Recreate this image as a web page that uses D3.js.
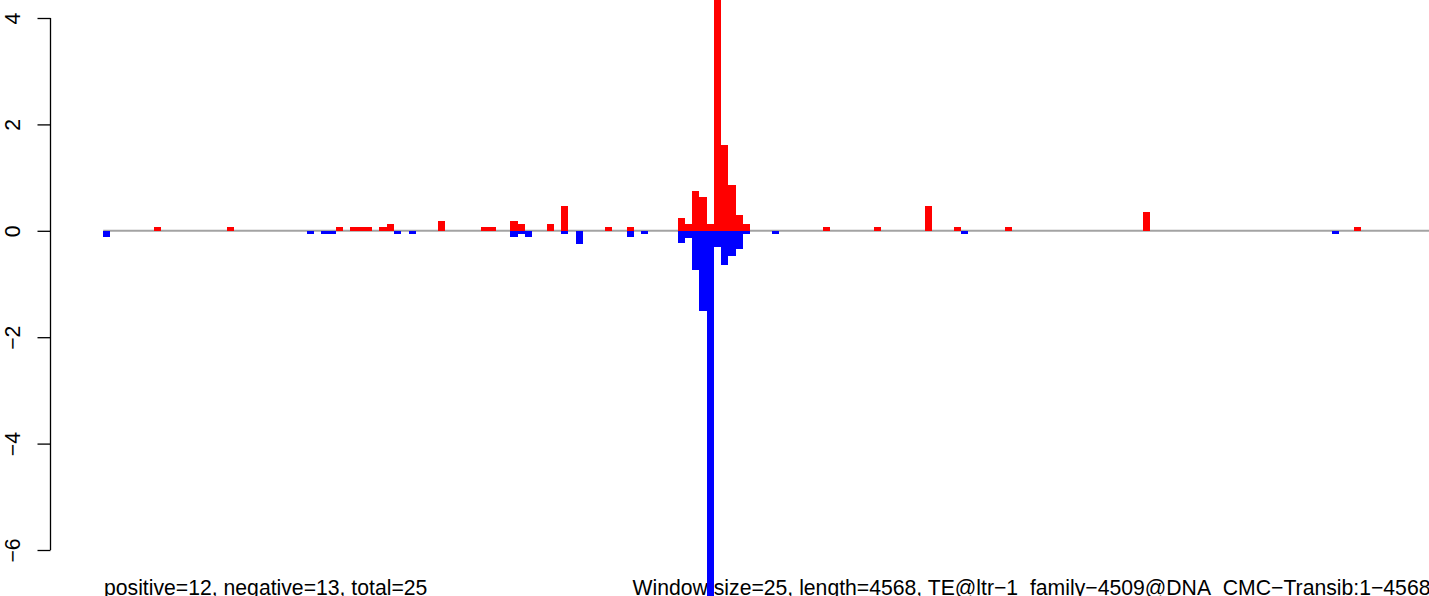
<!DOCTYPE html>
<html>
<head>
<meta charset="utf-8">
<script src="https://cdn.jsdelivr.net/npm/d3@7"></script>
<style>
  html, body { margin: 0; padding: 0; background: #fff; overflow: hidden; }
  svg { display: block; }
  text { font-family: "Liberation Sans", Arial, Helvetica, sans-serif; }
</style>
</head>
<body>
<svg id="chart" width="1429" height="596"></svg>
<script>
// ---- data (window index -> value) ----
const windowCount = 183;
const posBins = [7, 17, 32, 34, 35, 36, 38, 39, 46, 52, 53, 56, 57, 61, 63, 69, 72,
                 79, 80, 81, 82, 83, 84, 85, 86, 87, 88, 99, 106, 113, 117, 124, 143, 172];
const posValues = [0.0625, 0.0625, 0.0625, 0.0625, 0.0625, 0.0625, 0.0625, 0.125, 0.1875, 0.0625, 0.0625, 0.1875, 0.125, 0.125, 0.47, 0.0625, 0.0625,
                   0.245, 0.13, 0.75, 0.64, 0.13, 5.0, 1.62, 0.87, 0.30, 0.13, 0.0625, 0.0625, 0.47, 0.0625, 0.0625, 0.36, 0.0625];
const negBins = [0, 28, 30, 31, 40, 42, 56, 57, 58, 63, 65, 72, 74,
                 79, 80, 81, 82, 83, 84, 85, 86, 87, 88, 92, 118, 169];
const negValues = [-0.125, -0.0625, -0.0625, -0.0625, -0.0625, -0.0625, -0.125, -0.0625, -0.125, -0.0625, -0.25, -0.125, -0.0625,
                   -0.23, -0.126, -0.74, -1.50, -7.5, -0.30, -0.64, -0.47, -0.35, -0.06, -0.0625, -0.0625, -0.0625];
const yTicks = [-6, -4, -2, 0, 2, 4];
const leftLabel = "positive=12, negative=13, total=25";
const rightLabel = "Window size=25, length=4568, TE@ltr\u22121_family\u22124509@DNA_CMC\u2212Transib:1\u22124568";

// ---- layout ----
const svg = d3.select("#chart");
const x = d3.scaleLinear().domain([0, windowCount]).range([103.2, 103.2 + windowCount * 7.27]);
const y = d3.scaleLinear().domain([-6, 4]).range([550, 18]);
const fmt = d => (d < 0 ? "\u2212" + Math.abs(d) : String(d));

// zero line
svg.append("line")
  .attr("x1", x(0)).attr("x2", 1429)
  .attr("y1", y(0)).attr("y2", y(0))
  .attr("stroke", "#a3a3a3").attr("stroke-width", 2);

const pos = posBins.map((b, i) => ({ b, v: posValues[i] }));
const neg = negBins.map((b, i) => ({ b, v: negValues[i] }));

// bottom texts (drawn before bars so bars overlay them)
svg.append("text").attr("x", 104).attr("y", 595).attr("font-size", 21.2).attr("fill", "#000").text(leftLabel);
svg.append("text").attr("x", 632.5).attr("y", 595).attr("font-size", 21.2).attr("fill", "#000").text(rightLabel);

svg.append("g").selectAll("rect").data(pos).join("rect")
  .attr("x", d => x(d.b)).attr("width", d => x(d.b + 1) - x(d.b))
  .attr("y", d => y(d.v)).attr("height", d => y(0) - y(d.v))
  .attr("fill", "#ff0000").attr("shape-rendering", "crispEdges");

svg.append("g").selectAll("rect").data(neg).join("rect")
  .attr("x", d => x(d.b)).attr("width", d => x(d.b + 1) - x(d.b))
  .attr("y", y(0)).attr("height", d => y(d.v) - y(0))
  .attr("fill", "#0000ff").attr("shape-rendering", "crispEdges");

// y axis
const axis = d3.axisLeft(y).tickValues(yTicks).tickSize(13).tickFormat(fmt);
const ag = svg.append("g").attr("transform", "translate(50.5,0)").call(axis);
ag.select(".domain").attr("stroke", "#000").attr("stroke-width", 1.3).attr("fill", "none")
  .attr("d", `M0,${y(-6)}V${y(4)}`);
ag.selectAll(".tick line").attr("stroke", "#000").attr("stroke-width", 1.3);
ag.selectAll(".tick text")
  .attr("x", null).attr("dy", null)
  .attr("transform", "translate(-30.5,0) rotate(-90)")
  .attr("text-anchor", "middle")
  .attr("font-size", 21.2).attr("fill", "#000")
  .style("font-family", "'Liberation Sans', Arial, sans-serif");
</script>
</body>
</html>
